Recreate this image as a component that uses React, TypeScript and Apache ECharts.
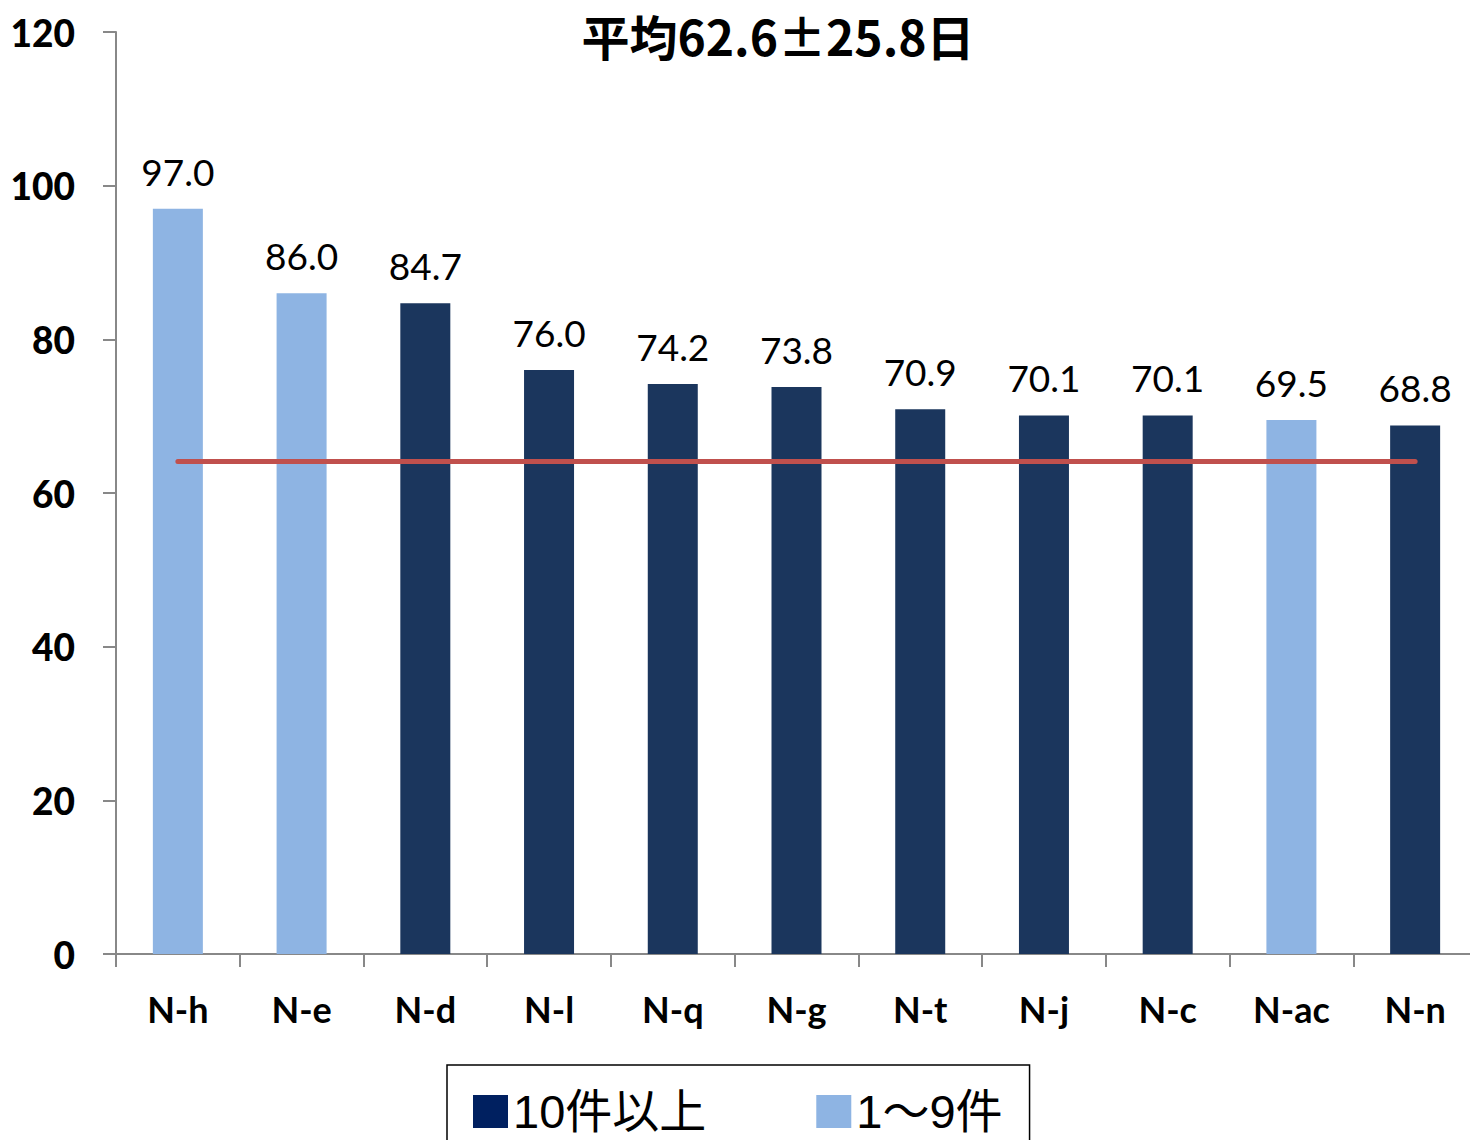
import React, { useEffect, useRef } from "react";
import * as echarts from "echarts";

const categories = ["N-h", "N-e", "N-d", "N-l", "N-q", "N-g", "N-t", "N-j", "N-c", "N-ac", "N-n"];
const values = [97.0, 86.0, 84.7, 76.0, 74.2, 73.8, 70.9, 70.1, 70.1, 69.5, 68.8];
const isLarge = [false, false, true, true, true, true, true, true, true, false, true];
const meanLine = [64.1, 64.1, 64.1, 64.1, 64.1, 64.1, 64.1, 64.1, 64.1, 64.1, 64.1];
const yTicks = { min: 0, max: 120, interval: 20 };
const seriesNames = ["10件以上", "1〜9件"];
const titleText = "平均62.6±25.8日";

const DARK = "#1b365d";
const DARK_LEGEND = "#002060";
const LIGHT = "#8eb4e3";
const RED = "#c0504d";
const LATIN = "Lato, 'Noto Sans', sans-serif";

export default function App() {
  const ref = useRef<HTMLDivElement>(null);
  useEffect(() => {
    if (!ref.current) return;
    const chart = echarts.init(ref.current, null, { renderer: "svg" });
    const largeData = values.map((v, i) => (isLarge[i] ? v : "-"));
    const smallData = values.map((v, i) => (!isLarge[i] ? v : "-"));
    const label = {
      show: true,
      position: "top",
      distance: 19,
      color: "#000",
      fontSize: 37,
      fontFamily: LATIN,
      formatter: (p: any) => Number(p.value).toFixed(1),
    };
    chart.setOption({
      animation: false,
      backgroundColor: "#fff",
      title: {
        text: titleText,
        left: 778,
        textAlign: "center",
        top: 9,
        padding: 0,
        textStyle: {
          fontSize: 48,
          lineHeight: 52,
          fontWeight: "bold",
          color: "#000",
          fontFamily: "'Noto Sans CJK JP', sans-serif",
        },
      },
      legend: {
        left: 447,
        top: 1065,
        orient: "horizontal",
        borderColor: "#000",
        borderWidth: 1.5,
        padding: [23, 27, 40, 26],
        itemGap: 110,
        itemWidth: 35,
        itemHeight: 33,
        icon: "rect",
        textStyle: {
          fontSize: 47,
          color: "#000",
          fontFamily: "'Liberation Sans', 'Noto Sans CJK JP', sans-serif",
        },
        data: [
          { name: seriesNames[0], itemStyle: { color: DARK_LEGEND } },
          { name: seriesNames[1], itemStyle: { color: LIGHT } },
        ],
      },
      grid: { left: 116, top: 32, width: 1361, height: 922, containLabel: false },
      xAxis: {
        type: "category",
        data: categories,
        axisLine: { lineStyle: { color: "#888", width: 2 } },
        axisTick: { show: true, length: 13, lineStyle: { color: "#888", width: 2 } },
        axisLabel: {
          margin: 37,
          fontSize: 36,
          fontWeight: "bold",
          color: "#000",
          fontFamily: LATIN,
          interval: 0,
        },
      },
      yAxis: {
        type: "value",
        min: yTicks.min,
        max: yTicks.max,
        interval: yTicks.interval,
        splitLine: { show: false },
        axisLine: { show: true, lineStyle: { color: "#888", width: 2 } },
        axisTick: { show: true, length: 13, lineStyle: { color: "#888", width: 2 } },
        axisLabel: {
          margin: 41,
          fontSize: 37,
          fontWeight: 900,
          color: "#000",
          fontFamily: LATIN,
        },
      },
      series: [
        {
          name: seriesNames[0],
          type: "bar",
          data: largeData,
          barWidth: 50,
          barGap: "-100%",
          itemStyle: { color: DARK },
          label,
        },
        {
          name: seriesNames[1],
          type: "bar",
          data: smallData,
          barWidth: 50,
          barGap: "-100%",
          itemStyle: { color: LIGHT },
          label,
        },
        {
          name: "平均",
          type: "line",
          data: meanLine,
          symbol: "none",
          lineStyle: { color: RED, width: 5, cap: "round" },
          z: 5,
        },
      ],
    });
    return () => chart.dispose();
  }, []);
  return (
    <div
      style={{
        position: "absolute",
        left: 0,
        top: 0,
        width: 1470,
        height: 1140,
        overflow: "hidden",
        background: "#fff",
      }}
    >
      <div ref={ref} style={{ width: 1480, height: 1140 }} />
    </div>
  );
}
